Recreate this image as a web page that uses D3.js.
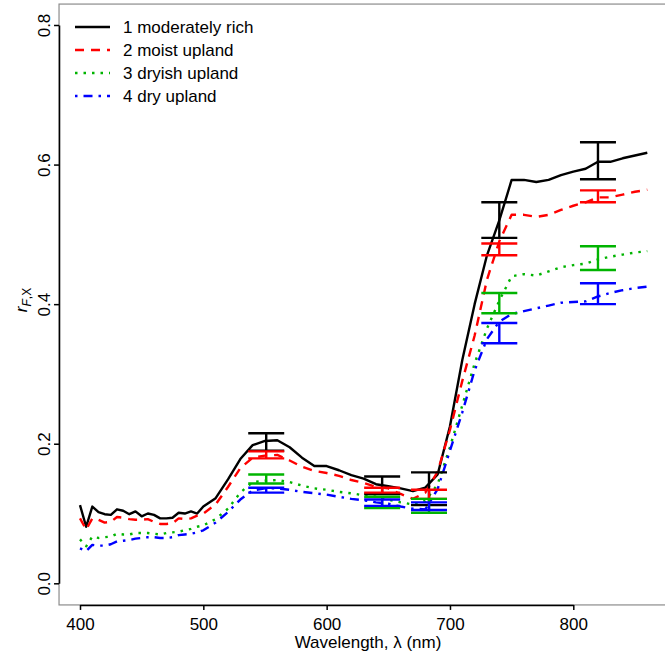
<!DOCTYPE html>
<html lang="en">
<head>
<meta charset="UTF-8" />
<title>index</title>
<script src="https://d3js.org/d3.v7.min.js"></script>
<style>
  body { margin: 0; background-color: white; }
  text { font-family: "Liberation Sans", Arial, sans-serif; }
</style>
</head>
<body>
<div id="my_dataviz"></div>
<script>
// wavelengths (nm) shared by all four spectra
const wavelengths = [400,405,410,415,420,425,430,435,440,445,450,455,460,465,470,475,480,485,490,495,500,
  510,520,530,540,550,560,570,580,590,600,610,620,630,640,650,660,670,680,690,700,
  710,720,730,740,750,760,770,780,790,800,810,820,830,840,850,860];

const moderatelyRich = [0.112,0.081,0.110,0.102,0.099,0.098,0.106,0.104,0.099,0.103,0.096,0.100,0.098,0.093,0.093,0.094,0.101,0.100,0.103,0.100,0.110,
  0.122,0.149,0.178,0.198,0.204,0.205,0.195,0.180,0.168,0.168,0.162,0.155,0.150,0.142,0.139,0.136,0.132,0.137,0.156,0.225,
  0.320,0.400,0.470,0.520,0.578,0.578,0.575,0.578,0.585,0.590,0.594,0.604,0.604,0.609,0.613,0.617];
const moistUpland = [0.093,0.077,0.093,0.091,0.087,0.088,0.095,0.094,0.092,0.091,0.091,0.092,0.088,0.085,0.085,0.086,0.093,0.092,0.093,0.097,0.100,
  0.113,0.138,0.165,0.180,0.183,0.184,0.176,0.167,0.161,0.158,0.154,0.148,0.144,0.138,0.136,0.128,0.121,0.130,0.160,0.220,
  0.290,0.355,0.435,0.490,0.528,0.528,0.525,0.528,0.535,0.541,0.546,0.553,0.553,0.557,0.561,0.564];
const dryishUpland = [0.063,0.053,0.067,0.065,0.066,0.067,0.071,0.070,0.070,0.072,0.072,0.072,0.071,0.070,0.072,0.073,0.074,0.076,0.078,0.081,0.083,
  0.092,0.107,0.130,0.145,0.147,0.148,0.145,0.140,0.136,0.134,0.131,0.129,0.126,0.124,0.120,0.116,0.113,0.118,0.142,0.195,
  0.255,0.315,0.365,0.405,0.440,0.443,0.441,0.447,0.453,0.456,0.458,0.464,0.468,0.471,0.474,0.476];
const dryUpland = [0.050,0.046,0.055,0.054,0.054,0.056,0.060,0.061,0.062,0.064,0.065,0.066,0.066,0.065,0.065,0.066,0.069,0.070,0.071,0.073,0.076,
  0.087,0.102,0.120,0.133,0.136,0.136,0.134,0.131,0.129,0.127,0.124,0.121,0.119,0.116,0.114,0.110,0.107,0.106,0.135,0.190,
  0.245,0.305,0.350,0.375,0.386,0.390,0.394,0.398,0.402,0.403,0.404,0.411,0.416,0.420,0.423,0.425];

// error bars
const barWavelengths = [551, 645, 683, 740, 820];
const richLow  = [0.190, 0.128, 0.112, 0.495, 0.579];
const richHigh = [0.215, 0.153, 0.159, 0.546, 0.632];
const moistLow  = [0.179, 0.130, 0.121, 0.470, 0.546];
const moistHigh = [0.189, 0.137, 0.134, 0.487, 0.563];
const dryishLow  = [0.143, 0.108, 0.101, 0.387, 0.449];
const dryishHigh = [0.156, 0.124, 0.121, 0.416, 0.483];
const dryLow  = [0.130, 0.111, 0.105, 0.344, 0.400];
const dryHigh = [0.137, 0.120, 0.116, 0.373, 0.430];

const seriesNames = ["1 moderately rich", "2 moist upland", "3 dryish upland", "4 dry upland"];
const xTicks = [400, 500, 600, 700, 800];
const yTicks = [0.0, 0.2, 0.4, 0.6, 0.8];

// styles
const colors = ["black", "#ff0000", "#00b400", "#0000ff"];
const dashes = [null, "9,7", "2.5,6", "2.5,6,9,6"];

const series = [
  {name: seriesNames[0], vals: moderatelyRich, lo: richLow, hi: richHigh},
  {name: seriesNames[1], vals: moistUpland, lo: moistLow, hi: moistHigh},
  {name: seriesNames[2], vals: dryishUpland, lo: dryishLow, hi: dryishHigh},
  {name: seriesNames[3], vals: dryUpland, lo: dryLow, hi: dryHigh}
];

var svg = d3.select("#my_dataviz")
  .append("svg")
  .attr("width", 665)
  .attr("height", 656);

var x = d3.scaleLinear().domain([400, 800]).range([80, 573.3]);
var y = d3.scaleLinear().domain([0, 0.8]).range([583.3, 25]);

// plot box (grey)
svg.append("rect")
  .attr("x", x(383)).attr("y", y(0.83))
  .attr("width", x(885) - x(383)).attr("height", y(-0.031) - y(0.83))
  .attr("fill", "none").attr("stroke", "#8c8c8c").attr("stroke-width", 1.2);

// x axis
var xAxis = svg.append("g")
  .attr("transform", "translate(0," + y(-0.031) + ")")
  .call(d3.axisBottom(x).tickValues(xTicks).tickSize(5).tickSizeOuter(0).tickPadding(8.5));
xAxis.selectAll("path, line").attr("stroke", "black").attr("stroke-width", 1.5);
xAxis.selectAll("text").attr("font-size", 17).attr("fill", "black")
  .style("font-family", "'Liberation Sans', Arial, sans-serif");

// y axis
var yAxis = svg.append("g")
  .attr("transform", "translate(" + x(383) + ",0)")
  .call(d3.axisLeft(y).tickValues(yTicks).tickFormat(d3.format(".1f")).tickSize(5).tickSizeOuter(0));
yAxis.selectAll("path, line").attr("stroke", "black").attr("stroke-width", 1.5);
yAxis.selectAll("text")
  .attr("font-size", 17).attr("fill", "black")
  .style("font-family", "'Liberation Sans', Arial, sans-serif")
  .attr("transform", "rotate(-90)")
  .attr("x", 0).attr("y", -9).attr("dy", 0)
  .style("text-anchor", "middle");

// axis titles
svg.append("text")
  .attr("x", 368).attr("y", 648)
  .attr("text-anchor", "middle").attr("font-size", 17)
  .text("Wavelength, λ (nm)");

var yt = svg.append("text")
  .attr("transform", "translate(27,300) rotate(-90)")
  .attr("text-anchor", "middle").attr("font-size", 17);
yt.append("tspan").attr("font-style", "italic").text("r");
yt.append("tspan").attr("font-size", 12).attr("dy", 4).attr("font-style", "italic").text("F");
yt.append("tspan").attr("font-size", 12).text(",X");

// spectra
var line = d3.line()
  .x(function(d, i) { return x(wavelengths[i]); })
  .y(function(d) { return y(d); });

series.forEach(function(s, k) {
  svg.append("path")
    .datum(s.vals)
    .attr("d", line)
    .attr("fill", "none")
    .attr("stroke", colors[k])
    .attr("stroke-width", 2.4)
    .attr("stroke-dasharray", dashes[k])
    .attr("stroke-linejoin", "round");
});

// error bars
var cap = 18;
series.forEach(function(s, k) {
  var g = svg.append("g").attr("stroke", colors[k]).attr("stroke-width", 2.4);
  barWavelengths.forEach(function(w, i) {
    g.append("line").attr("x1", x(w)).attr("x2", x(w)).attr("y1", y(s.lo[i])).attr("y2", y(s.hi[i]));
    g.append("line").attr("x1", x(w) - cap).attr("x2", x(w) + cap).attr("y1", y(s.lo[i])).attr("y2", y(s.lo[i]));
    g.append("line").attr("x1", x(w) - cap).attr("x2", x(w) + cap).attr("y1", y(s.hi[i])).attr("y2", y(s.hi[i]));
  });
});

// legend
var legend = svg.append("g");
series.forEach(function(s, k) {
  var ly = 27 + k * 23;
  legend.append("line")
    .attr("x1", 75).attr("x2", 110).attr("y1", ly).attr("y2", ly)
    .attr("stroke", colors[k]).attr("stroke-width", 2.4)
    .attr("stroke-dasharray", dashes[k]);
  legend.append("text")
    .attr("x", 123).attr("y", ly).attr("dy", "0.35em")
    .attr("font-size", 17)
    .text(s.name);
});
</script>
</body>
</html>
